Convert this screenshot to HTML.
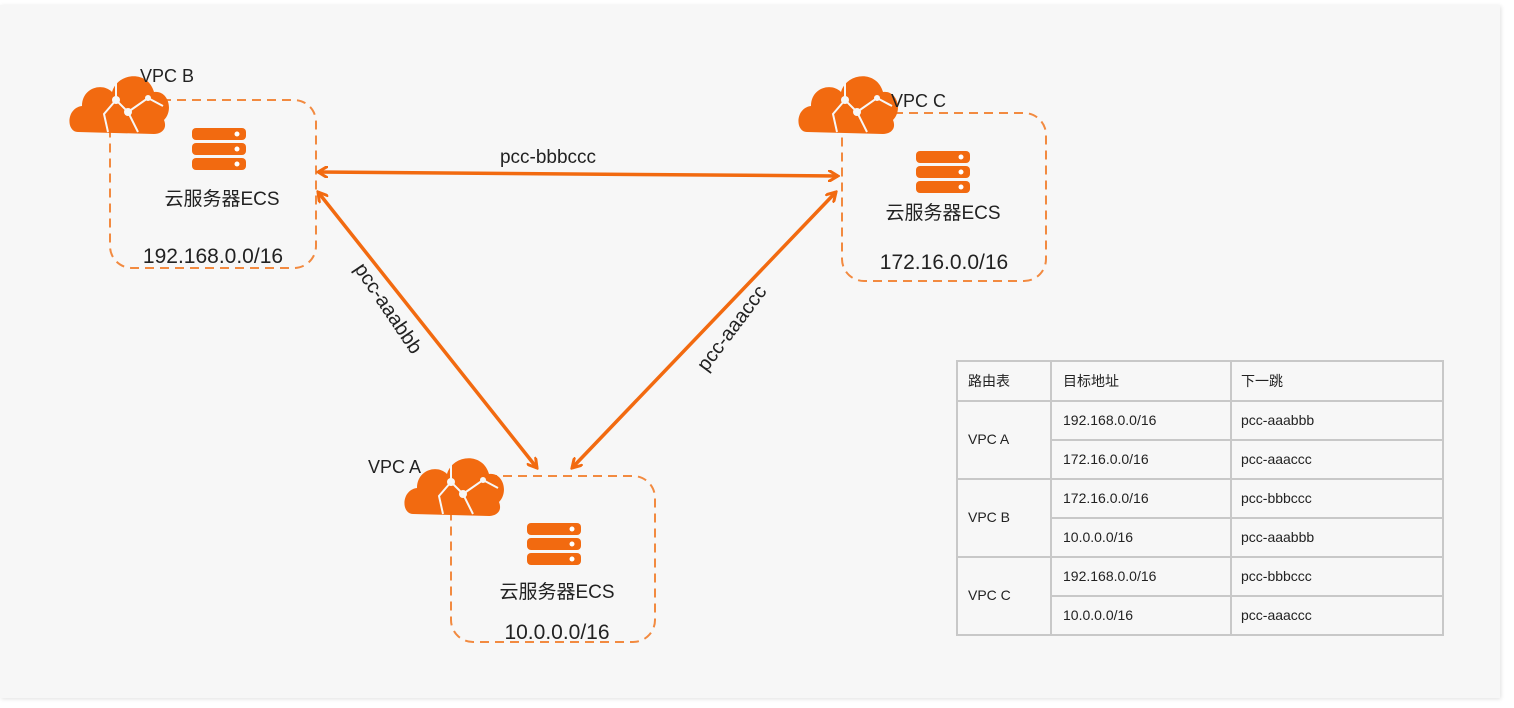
<!DOCTYPE html>
<html><head><meta charset="utf-8"><style>
body{margin:0;width:1514px;height:708px;background:#fff;overflow:hidden;font-family:"Liberation Sans","Noto Sans CJK SC",sans-serif}
.card{position:absolute;left:0;top:5px;width:1500px;height:693px;background:#f7f7f7;box-shadow:1px 1px 4px rgba(0,0,0,.12)}
svg{position:absolute;left:0;top:0}
</style></head><body>
<div class="card"></div>
<svg width="1514" height="708" viewBox="0 0 1514 708" font-family="Liberation Sans, Noto Sans CJK SC, sans-serif">
<defs>
<g id="cloud">
<path d="M10,62 C-2,62 -2,38 14,36 C14,18 34,12 44,22 C50,2 80,0 86,22 C100,20 106,40 96,50 C100,60 92,64 86,64 Z" fill="#f26a10"/>
<path d="M48,8 L48,30 L60,42 L70,62 M60,42 L80,28 L95,36 M48,30 L36,44 L40,62" stroke="#f7f7f7" stroke-width="2" fill="none"/>
<circle cx="48" cy="30" r="4" fill="#f7f7f7"/><circle cx="60" cy="42" r="4" fill="#f7f7f7"/><circle cx="80" cy="28" r="3" fill="#f7f7f7"/>
</g>
<g id="server">
<rect x="0" y="0" width="54" height="12" rx="4" fill="#f26a10"/><circle cx="45" cy="6" r="2.5" fill="#fff"/>
<rect x="0" y="15" width="54" height="12" rx="4" fill="#f26a10"/><circle cx="45" cy="21" r="2.5" fill="#fff"/>
<rect x="0" y="30" width="54" height="12" rx="4" fill="#f26a10"/><circle cx="45" cy="36" r="2.5" fill="#fff"/>
</g>
<marker id="ah" viewBox="0 0 12 12" refX="10" refY="6" markerWidth="12" markerHeight="12" orient="auto-start-reverse" markerUnits="userSpaceOnUse">
<path d="M0,0 L10,6 L0,12" fill="none" stroke="#f26a10" stroke-width="3"/></marker>
</defs>
<g fill="none" stroke="#f28a40" stroke-width="2" stroke-dasharray="9,6">
<rect x="110" y="100" width="206" height="168" rx="22"/>
<rect x="842" y="113" width="204" height="168" rx="22"/>
<rect x="451" y="476" width="204" height="166" rx="22"/>
</g>
<use href="#cloud" x="68" y="70"/>
<use href="#cloud" x="797" y="70"/>
<use href="#cloud" x="403" y="452"/>
<use href="#server" x="192" y="128"/>
<use href="#server" x="916" y="151"/>
<use href="#server" x="527" y="523"/>
<g font-size="18" fill="#222">
<text x="140" y="82">VPC B</text><text x="891" y="107">VPC C</text><text x="368" y="473">VPC A</text>
<text x="222" y="205" text-anchor="middle" font-size="19">云服务器ECS</text>
<text x="943" y="219" text-anchor="middle" font-size="19">云服务器ECS</text>
<text x="557" y="598" text-anchor="middle" font-size="19">云服务器ECS</text>
<text x="213" y="263" text-anchor="middle" font-size="21">192.168.0.0/16</text>
<text x="944" y="269" text-anchor="middle" font-size="21">172.16.0.0/16</text>
<text x="557" y="639" text-anchor="middle" font-size="21">10.0.0.0/16</text>
<text x="548" y="163" text-anchor="middle" font-size="19">pcc-bbbccc</text>
<text transform="translate(383,312) rotate(56)" text-anchor="middle" font-size="20">pcc-aaabbb</text>
<text transform="translate(737,332) rotate(-53)" text-anchor="middle" font-size="20">pcc-aaaccc</text>
</g>
<g stroke="#f26a10" stroke-width="3.5" fill="none" marker-start="url(#ah)" marker-end="url(#ah)">
<line x1="318" y1="172" x2="838" y2="176"/>
<line x1="318" y1="192" x2="537" y2="468"/>
<line x1="836" y1="192" x2="572" y2="468"/>
</g>
<g stroke="#c8c8c8" stroke-width="2" fill="none">
<rect x="957" y="361" width="486" height="274"/>
<line x1="1051" y1="361" x2="1051" y2="635"/><line x1="1231" y1="361" x2="1231" y2="635"/>
<line x1="957" y1="401" x2="1443" y2="401"/><line x1="957" y1="479" x2="1443" y2="479"/><line x1="957" y1="557" x2="1443" y2="557"/>
<line x1="1051" y1="440" x2="1443" y2="440"/><line x1="1051" y1="518" x2="1443" y2="518"/><line x1="1051" y1="596" x2="1443" y2="596"/>
</g>
<g font-size="14" fill="#222">
<text x="968" y="386">路由表</text><text x="1063" y="386">目标地址</text><text x="1241" y="386">下一跳</text>
<text x="968" y="444">VPC A</text><text x="968" y="522">VPC B</text><text x="968" y="600">VPC C</text>
<text x="1063" y="425">192.168.0.0/16</text><text x="1241" y="425">pcc-aaabbb</text>
<text x="1063" y="464">172.16.0.0/16</text><text x="1241" y="464">pcc-aaaccc</text>
<text x="1063" y="503">172.16.0.0/16</text><text x="1241" y="503">pcc-bbbccc</text>
<text x="1063" y="542">10.0.0.0/16</text><text x="1241" y="542">pcc-aaabbb</text>
<text x="1063" y="581">192.168.0.0/16</text><text x="1241" y="581">pcc-bbbccc</text>
<text x="1063" y="620">10.0.0.0/16</text><text x="1241" y="620">pcc-aaaccc</text>
</g>
</svg>
</body></html>
